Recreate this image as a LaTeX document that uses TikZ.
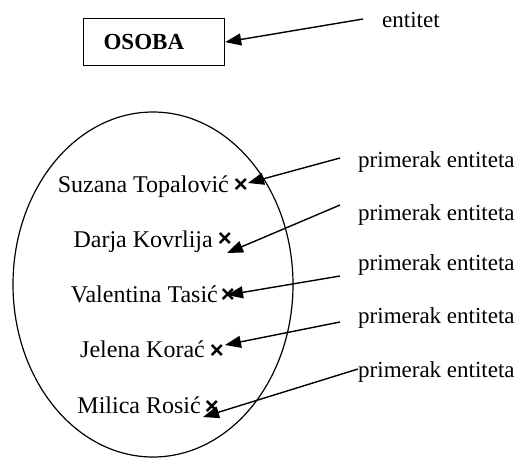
\documentclass[tikz,border=0pt]{standalone}
\usepackage{fontspec}
\setmainfont{Liberation Serif}
\setsansfont{Liberation Sans}
\usepackage{tikz}
\usetikzlibrary{positioning,calc,arrows.meta}

\begin{document}
\begin{tikzpicture}[x=1pt,y=-1pt]
		\tikzstyle{entity_box}=[draw, line width=1.2pt, inner xsep=20pt, text width=101pt, align=left, minimum height=47pt, font=\fontsize{23}{26}\selectfont\bfseries];
		\tikzstyle{member}=[inner sep=0, anchor=base east, font=\fontsize{24}{28}\selectfont];
		\tikzstyle{cross_mark}=[inner sep=0, font=\fontsize{24}{28}\selectfont\sffamily\bfseries];
		\tikzstyle{note}=[inner sep=0, anchor=base west, font=\fontsize{23}{26}\selectfont];
		\tikzstyle{pointer}=[line width=1.4pt, -{Triangle[length=16pt,width=12pt]}];
		
		\useasboundingbox (0,0) rectangle (521,459);
		
		\node[entity_box, anchor=north west] (osoba) at (83,18) {OSOBA};
		\draw[line width=1.2pt] (153,284.5) ellipse [x radius=140, y radius=172.5];
		
		\node[member] (n1) at (229,192) {Suzana Topalović};
		\node[member] (n2) at (213,247) {Darja Kovrlija};
		\node[member] (n3) at (218,302) {Valentina Tasić};
		\node[member] (n4) at (205,357) {Jelena Korać};
		\node[member] (n5) at (201,413) {Milica Rosić};
		
		\node[cross_mark] (x1) at (241,185) {×};
		\node[cross_mark] (x2) at (225,239) {×};
		\node[cross_mark] (x3) at (228,295) {×};
		\node[cross_mark] (x4) at (217,351) {×};
		\node[cross_mark] (x5) at (212,407) {×};
		
		\node[note] (ent) at (382,27) {entitet};
		\node[note] (p1) at (358,167) {primerak entiteta};
		\node[note] (p2) at (358,220) {primerak entiteta};
		\node[note] (p3) at (358,270) {primerak entiteta};
		\node[note] (p4) at (358,323) {primerak entiteta};
		\node[note] (p5) at (358,377) {primerak entiteta};
		
		\coordinate (a0) at (363,19);
		\coordinate (a1) at (340,158);
		\coordinate (a2) at (340,205);
		\coordinate (a3) at (340,276);
		\coordinate (a4) at (340,322);
		\coordinate (a5) at (358,369);
		
		\draw[pointer] (a0) -- (osoba.east);
		\draw[pointer] (a1) -- ($(x1)+(7,-2)$);
		\draw[pointer] (a2) -- ($(x2)+(2,14)$);
		\draw[pointer] (a3) -- ($(x3)+(-1,0)$);
		\draw[pointer] (a4) -- ($(x4)+(8,-6)$);
		\draw[pointer] (a5) -- ($(x5)+(-9,10)$);
	\end{tikzpicture}
\end{document}
